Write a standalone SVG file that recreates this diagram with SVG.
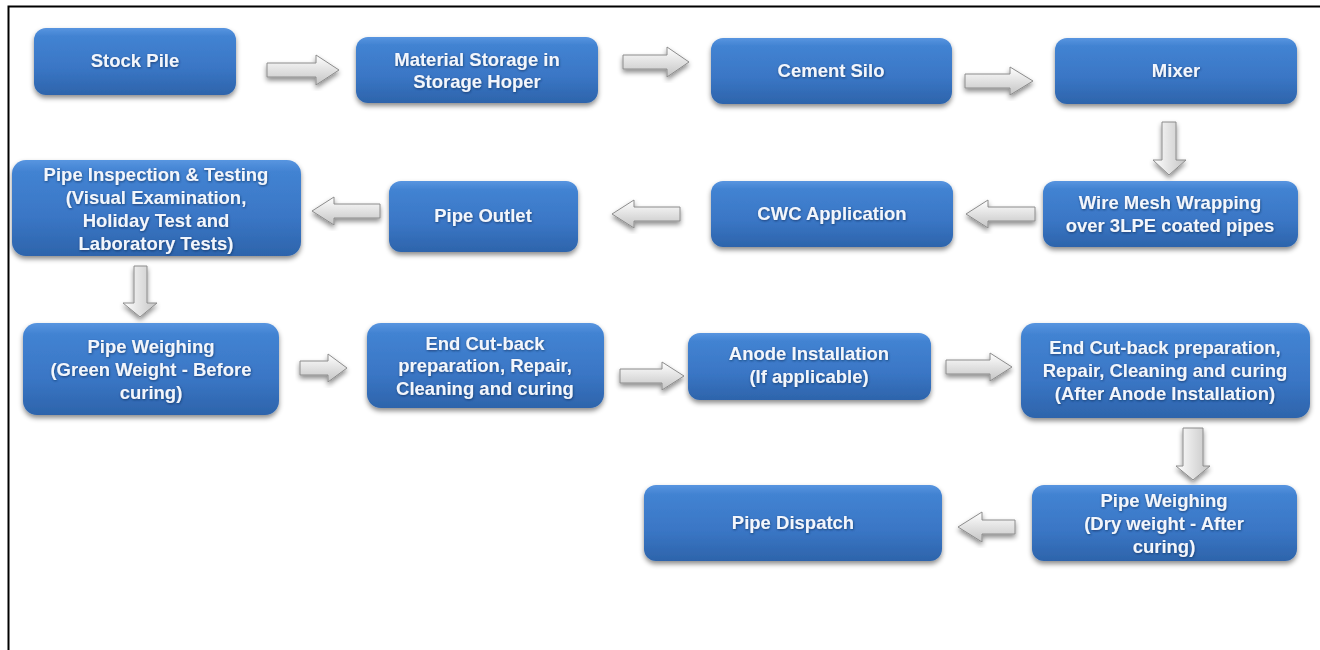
<svg xmlns="http://www.w3.org/2000/svg" width="1320" height="650" viewBox="0 0 1320 650">
<defs>
<linearGradient id="gBox" x1="0" y1="0" x2="0" y2="1">
<stop offset="0" stop-color="#5895e0"/>
<stop offset="0.12" stop-color="#4283d2"/>
<stop offset="0.6" stop-color="#3a76c5"/>
<stop offset="1" stop-color="#2d64ab"/>
</linearGradient>
<linearGradient id="gH" x1="0" y1="0" x2="0" y2="1">
<stop offset="0" stop-color="#ffffff"/>
<stop offset="1" stop-color="#c4c4c4"/>
</linearGradient>
<linearGradient id="gV" x1="0" y1="0" x2="1" y2="0">
<stop offset="0" stop-color="#ffffff"/>
<stop offset="1" stop-color="#c4c4c4"/>
</linearGradient>
<filter id="sh" x="-10%" y="-10%" width="120%" height="130%">
<feDropShadow dx="0" dy="3" stdDeviation="2.5" flood-color="#000" flood-opacity="0.45"/>
</filter>
<filter id="tsh" x="-5%" y="-20%" width="110%" height="140%">
<feDropShadow dx="0.5" dy="1" stdDeviation="0.8" flood-color="#0a2a55" flood-opacity="0.7"/>
</filter>
</defs>
<style>
.box{fill:url(#gBox);filter:url(#sh);}
.t{font-family:"Liberation Sans",Arial,sans-serif;font-weight:bold;font-size:18.5px;fill:#f2f6fc;text-anchor:middle;filter:url(#tsh);}
.ah{fill:url(#gH);stroke:#8c8c8c;stroke-width:1;filter:url(#sh);}
.av{fill:url(#gV);stroke:#8c8c8c;stroke-width:1;filter:url(#sh);}
</style>
<rect width="1320" height="650" fill="#fff"/>
<path d="M8.5 650 V6.5 H1320" fill="none" stroke="#000" stroke-width="2"/>

<g id="connectors">
<path class="ah" d="M267 63 H316 V55 L339 70 L316 85 V77 H267 Z"/>
<path class="ah" d="M623 55 H667 V47 L689 62 L667 77 V69 H623 Z"/>
<path class="ah" d="M965 74 H1010 V67 L1033 81 L1010 95 V88 H965 Z"/>
<path class="av" d="M1162 122 H1176 V160 H1186 L1169 175 L1153 160 H1162 Z"/>
<path class="ah" d="M1035 207 H988 V200 L966 214 L988 228 V221 H1035 Z"/>
<path class="ah" d="M680 207 H634 V200 L612 214 L634 228 V221 H680 Z"/>
<path class="ah" d="M380 204 H334 V197 L312 211 L334 225 V218 H380 Z"/>
<path class="av" d="M134 266 H147 V303 H157 L140 317 L123 303 H134 Z"/>
<path class="ah" d="M300 361 H328 V354 L347 368 L328 382 V375 H300 Z"/>
<path class="ah" d="M620 369 H662 V362 L684 376 L662 390 V383 H620 Z"/>
<path class="ah" d="M946 360 H990 V353 L1012 367 L990 381 V374 H946 Z"/>
<path class="av" d="M1183 428 H1203 V466 H1210 L1193 480 L1176 466 H1183 Z"/>
<path class="ah" d="M1015 520 H982 V512 L958 527 L982 542 V534 H1015 Z"/>
</g>

<g id="n1"><rect class="box" x="34" y="28" width="202" height="67" rx="12"/><text class="t" x="135" y="67">Stock Pile</text></g>
<g id="n2"><rect class="box" x="356" y="37" width="242" height="66" rx="12"/><text class="t" x="477" y="66">Material Storage in</text><text class="t" x="477" y="88">Storage Hoper</text></g>
<g id="n3"><rect class="box" x="711" y="38" width="241" height="66" rx="12"/><text class="t" x="831" y="77">Cement Silo</text></g>
<g id="n4"><rect class="box" x="1055" y="38" width="242" height="66" rx="12"/><text class="t" x="1176" y="77">Mixer</text></g>
<g id="n5"><rect class="box" x="1043" y="181" width="255" height="66" rx="12"/><text class="t" x="1170" y="209">Wire Mesh Wrapping</text><text class="t" x="1170" y="232">over 3LPE coated pipes</text></g>
<g id="n6"><rect class="box" x="711" y="181" width="242" height="66" rx="12"/><text class="t" x="832" y="220">CWC Application</text></g>
<g id="n7"><rect class="box" x="389" y="181" width="189" height="71" rx="12"/><text class="t" x="483" y="222">Pipe Outlet</text></g>
<g id="n8"><rect class="box" x="12" y="160" width="289" height="96" rx="14"/><text class="t" x="156" y="181">Pipe Inspection &amp; Testing</text><text class="t" x="156" y="204">(Visual Examination,</text><text class="t" x="156" y="227">Holiday Test and</text><text class="t" x="156" y="250">Laboratory Tests)</text></g>
<g id="n9"><rect class="box" x="23" y="323" width="256" height="92" rx="14"/><text class="t" x="151" y="353">Pipe Weighing</text><text class="t" x="151" y="376">(Green Weight - Before</text><text class="t" x="151" y="399">curing)</text></g>
<g id="n10"><rect class="box" x="367" y="323" width="237" height="85" rx="14"/><text class="t" x="485" y="350">End Cut-back</text><text class="t" x="485" y="372">preparation, Repair,</text><text class="t" x="485" y="395">Cleaning and curing</text></g>
<g id="n11"><rect class="box" x="688" y="333" width="243" height="67" rx="12"/><text class="t" x="809" y="360">Anode Installation</text><text class="t" x="809" y="383">(If applicable)</text></g>
<g id="n12"><rect class="box" x="1021" y="323" width="289" height="95" rx="14"/><text class="t" x="1165" y="354">End Cut-back preparation,</text><text class="t" x="1165" y="377">Repair, Cleaning and curing</text><text class="t" x="1165" y="400">(After Anode Installation)</text></g>
<g id="n13"><rect class="box" x="1032" y="485" width="265" height="76" rx="12"/><text class="t" x="1164" y="507">Pipe Weighing</text><text class="t" x="1164" y="530">(Dry weight - After</text><text class="t" x="1164" y="553">curing)</text></g>
<g id="n14"><rect class="box" x="644" y="485" width="298" height="76" rx="12"/><text class="t" x="793" y="529">Pipe Dispatch</text></g>
</svg>
